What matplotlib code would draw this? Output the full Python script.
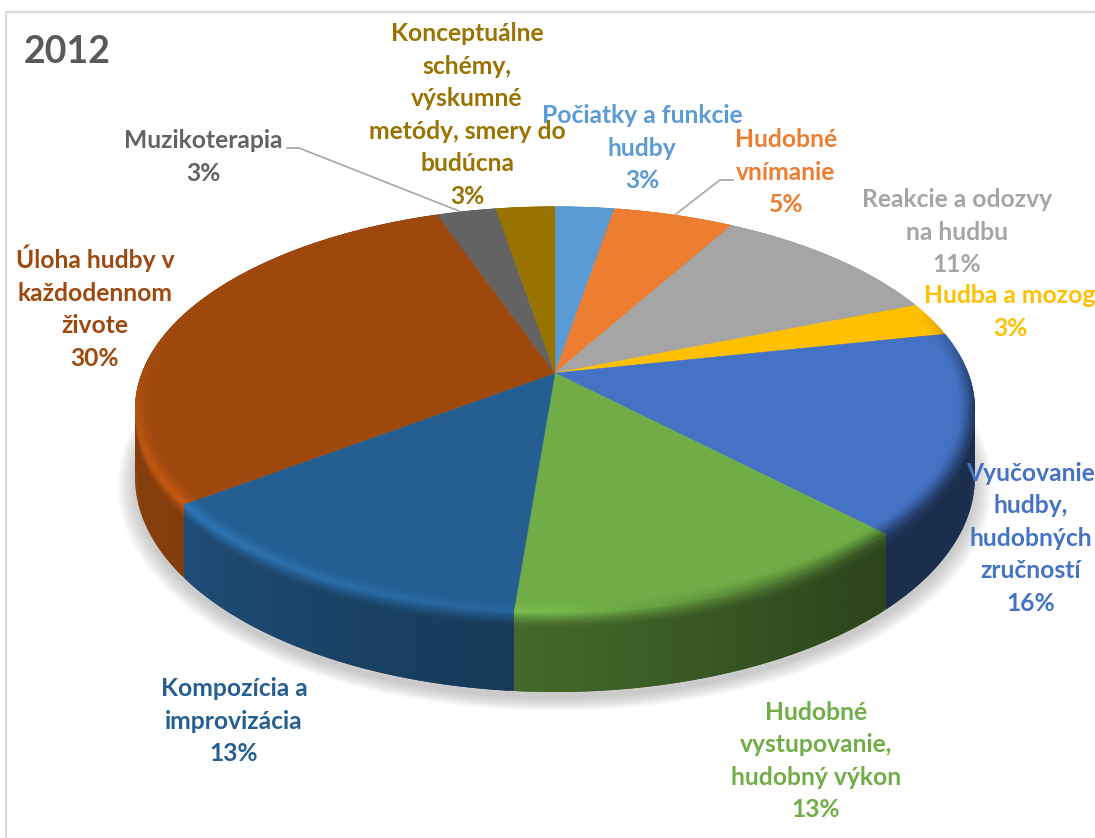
from matplotlib.pyplot import subplots
from matplotlib.collections import PolyCollection
from matplotlib.colors import to_rgb
from numpy import array, clip, concatenate, cos, cumsum, deg2rad, interp, linspace, sin

# clockwise from twelve o'clock
labels = ['Počiatky a funkcie\nhudby', 'Hudobné\nvnímanie', 'Reakcie a odozvy\nna hudbu', 'Hudba a mozog',
          'Vyučovanie\nhudby,\nhudobných\nzručností', 'Hudobné\nvystupovanie,\nhudobný výkon',
          'Kompozícia a\nimprovizácia', 'Úloha hudby v\nkaždodennom\nživote', 'Muzikoterapia',
          'Konceptuálne\nschémy,\nvýskumné\nmetódy, smery do\nbudúcna']
percent_labels = ['3%', '5%', '11%', '3%', '16%', '13%', '13%', '30%', '3%', '3%']
# slice sizes as measured on the disc, the printed percentages are rounded
shares = [2.7, 5.5, 10.8, 2.7, 16.0, 13.6, 13.5, 29.8, 2.7, 2.7]
colors = ['#5b9bd5', '#ed7d31', '#a5a5a5', '#ffc000', '#4472c4', '#70ad47', '#255e91', '#9e480e', '#636363', '#997300']

label_x = [642, 786, 957, 1010, 1031, 816, 234, 95, 203, 467]
label_y = [148, 172, 232, 312, 538, 761, 721, 307, 157, 115]

# perspective of the tilted disc, in pixels of the picture
cx, cy = 555, 373
rx, ry, tilt, depth = 413, 196, 0.18, 65.6


def project(theta, r=1.0, h=0.0):
    x = r * sin(deg2rad(theta))
    y = r * cos(deg2rad(theta))
    w = 1 + tilt * y
    return cx + rx * x / w, cy - ry * y / w + h * depth / w


def scaled(color, factor):
    return clip(array(to_rgb(color)) * factor, 0, 1)


def wall_shade(theta):
    return interp(theta, [0, 140, 183, 240, 360], [0.4, 0.4, 0.6, 0.85, 0.85])


def rim_shade(theta):
    return interp(theta, [0, 70, 100, 140, 180, 230, 255, 275, 290, 360],
                  [1, 1, 0.45, 0.55, 1.08, 1.28, 1.2, 1.04, 1, 1])


def band(start, stop, levels, shade):
    # painted in order, every quad reaches under the next one so no seams show
    quads, faces = [], []
    steps = linspace(start, stop, int(stop - start) * 2 + 2)
    for i in range(len(levels) - 1):
        r0, h0 = levels[i]
        r1, h1 = levels[i + 1]
        r2, h2 = r1 + (r1 - r0) * 0.5, h1 + (h1 - h0) * 0.5
        for t0, t1 in zip(steps[:-1], steps[1:]):
            t2 = min(t1 + 0.5, stop)
            quads.append([project(t0, r0, h0), project(t2, r0, h0), project(t2, r2, h2), project(t0, r2, h2)])
            faces.append(shade((t0 + t1) / 2, (r0 + r1) / 2, (h0 + h1) / 2))
    return PolyCollection(quads, facecolors=faces, edgecolors='none', linewidths=0)


fig, ax = subplots(figsize=(10.95, 8.38), dpi=100)
fig.subplots_adjust(left=0, right=1, bottom=0, top=1)
ax.set_xlim(0, 1095)
ax.set_ylim(838, 0)
ax.axis('off')

# chart frame, cut off by the screenshot on the right and at the bottom
ax.plot([6, 6, 1100], [845, 12, 12], color='#d9d9d9', lw=1.6, zorder=1)

# soft shadow under the disc
angles = linspace(0, 360, 361)
for grow in linspace(0.04, 0.0, 12):
    xs, ys = project(angles, 1 + grow, 1.08)
    ax.fill(xs, ys, color='#8c8c8c', alpha=0.045, lw=0, zorder=2)

edges = concatenate(([0], cumsum(shares))) * 3.6

# walls first, bottom up, then the top faces with their rim from the edge inwards
wall_heights = concatenate(([1.0, 0.6, 0.3], linspace(0.2, 0, 13)))
rim_radii = linspace(1.0, 0.962, 13)

for start, stop, color in zip(edges[:-1], edges[1:], colors):
    def wall_color(theta, r, h, color=color):
        top = rim_shade(theta)
        base = wall_shade(theta)
        return scaled(color, base + (top - base) * max(0.0, 1 - h / 0.2) ** 1.5)

    collection = band(start, stop, [(1.0, h) for h in wall_heights], wall_color)
    collection.set_zorder(3)
    ax.add_collection(collection)

for start, stop, color in zip(edges[:-1], edges[1:], colors):
    steps = linspace(start, stop, int(stop - start) * 2 + 2)
    xs, ys = project(steps)
    ax.fill(concatenate(([cx], xs)), concatenate(([cy], ys)), color=color, lw=0.3, zorder=4)

    def rim_color(theta, r, h, color=color):
        blend = ((r - rim_radii[-1]) / (1.0 - rim_radii[-1])) ** 1.3
        return scaled(color, 1 + (rim_shade(theta) - 1) * blend)

    collection = band(start, stop, [(r, 0.0) for r in rim_radii], rim_color)
    collection.set_zorder(5)
    ax.add_collection(collection)

# leader lines
ax.plot([287, 299, 459], [148, 148, 211], color='#a6a6a6', lw=1.2, zorder=6)
ax.plot([733, 720, 676], [180, 180, 214], color='#a6a6a6', lw=1.2, zorder=6)

for name, percent, x, y, color in zip(labels, percent_labels, label_x, label_y, colors):
    ax.text(x, y, f'{name}\n{percent}', color=color, family='Lato', weight='bold', fontsize=17.7,
            ha='center', va='center', linespacing=1.5, zorder=7)

ax.text(24, 52, '2012', color='#595959', family='Lato', weight='bold', fontsize=27, ha='left', va='center', zorder=7)

fig.savefig('out.png', dpi=100)
